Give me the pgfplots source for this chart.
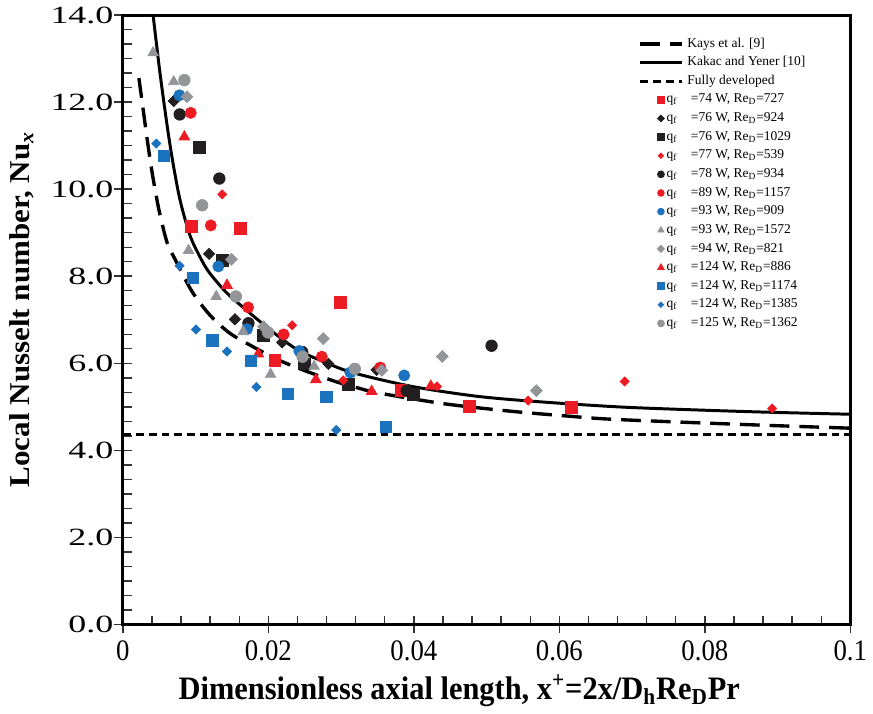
\documentclass[border=0pt]{standalone}
\usepackage{fontspec}
\setmainfont{Liberation Serif}
\usepackage{pgfplots}
\pgfplotsset{compat=1.18}
\definecolor{cred}{HTML}{ED1C24}
\definecolor{cblue}{HTML}{1B72BE}
\definecolor{cgray}{HTML}{939598}
\definecolor{cblack}{HTML}{231F20}
\definecolor{axgray}{HTML}{333333}
\pgfplotsset{
  lineleg/.style={legend image code/.code={\draw[##1] (0pt,0pt) -- (21pt,0pt);}},
  markleg/.style={legend image code/.code={\draw[##1, every mark/.append style={scale=0.6}] plot coordinates {(10.5pt,0pt)};}},
  commonax/.style={width=367pt, height=307.5pt, scale only axis,
    xmin=0, xmax=0.1, ymin=0, ymax=14,
    xtick={0,0.02,0.04,0.06,0.08,0.1}, ytick={0,2,4,6,8,10,12,14},
    scaled x ticks=false, tick pos=left},
}
\newcommand{\qf}[2]{\hspace*{-10.5pt}q\textsubscript{f}\hspace{6.8pt}=#1 W, Re\textsubscript{D}=#2}
\begin{document}
\begin{tikzpicture}
\path (-62pt,0pt) (376pt,0pt);
% minor ticks (inside)
\begin{axis}[commonax, minor x tick num=4, minor y tick num=5, tick align=inside,
  major tick length=0pt, minor tick length=4.5pt, xticklabels={}, yticklabels={},
  axis line style={draw=none}, minor tick style={line width=0.7pt, axgray}]
\addplot[draw=none, forget plot] coordinates {(0.05,5)};
\end{axis}
\begin{axis}[commonax, name=mainax, minor tick num=0, tick align=center, major tick length=9pt,
  major tick style={line width=0.75pt, axgray},
  axis line style={line width=1.2pt, draw=axgray},
  xticklabel style={/pgf/number format/fixed, /pgf/number format/precision=2,
    /pgf/number format/assume math mode=true, font=\fontsize{15}{15}\selectfont, xscale=0.9},
  yticklabel style={/pgf/number format/fixed, /pgf/number format/fixed zerofill,
    /pgf/number format/precision=1, /pgf/number format/assume math mode=true,
    font=\fontsize{12.5}{12.5}\selectfont, xscale=1.45, inner xsep=0pt},
  xlabel={Dimensionless axial length, x\textsuperscript{+}=2x/D\textsubscript{h}Re\textsubscript{D}Pr},
  xlabel style={font=\bfseries\fontsize{16.5}{18}\selectfont, xscale=0.93, at={(ticklabel cs:0.4625)}, anchor=near ticklabel},
  ylabel={\scalebox{1.08}[1]{Local Nusselt number, Nu\textsubscript{\textit{x}}}},
  ylabel style={font=\bfseries\fontsize{14.5}{16}\selectfont, at={(ticklabel cs:0.517)}, anchor=near ticklabel, yshift=5pt},
  legend style={at={(rel axis cs:0.70,0.975)}, anchor=north west, draw=none, fill=none,
    font=\fontsize{6.8}{8}\selectfont, row sep=0pt,
    nodes={text height=5pt, text depth=1.8pt, inner ysep=1.3pt}},
  legend cell align=left,
]
\addplot[smooth, black, line width=1.7pt, dash pattern=on 10pt off 5pt, lineleg] coordinates {
(0.0022,12.55)(0.00268,11.96)(0.00336,11.12)(0.00404,10.36)(0.00495,9.53)(0.00608,8.77)(0.0072,8.38)(0.0095,7.65)(0.012,7.10)(0.01471,6.69)(0.01789,6.38)(0.02107,6.10)(0.0247,5.85)(0.02925,5.58)(0.0324,5.43)(0.0351,5.32)(0.0442,5.07)(0.0533,4.90)(0.061,4.79)(0.0678,4.71)(0.086,4.59)(0.1,4.51)};
\addlegendentry{Kays et al. [9]}
\addplot[smooth, black, line width=1.5pt, lineleg] coordinates {
(0.00415,14.0)(0.0050,12.8)(0.00563,12.0)(0.00631,11.2)(0.00699,10.5)(0.0079,9.72)(0.00926,8.92)(0.01086,8.36)(0.01199,8.06)(0.01426,7.62)(0.01699,7.22)(0.02016,6.78)(0.0238,6.33)(0.02698,6.08)(0.0315,5.79)(0.0397,5.47)(0.0488,5.24)(0.0578,5.11)(0.0680,5.00)(0.0769,4.94)(0.0880,4.88)(0.1,4.83)};
\addlegendentry{Kakac and Yener [10]}
\addplot[black, line width=1.5pt, dash pattern=on 4pt off 2.5pt, lineleg] coordinates {(0,4.364)(0.1,4.364)};
\addlegendentry{Fully developed}
% q=74, Re=727
\addplot[only marks, mark=square*, color=cred, mark size=3pt, markleg] coordinates {
(0.00944,9.151)(0.01612,9.099)(0.02984,7.391)(0.02089,6.071)(0.03832,5.388)(0.04759,5.001)(0.06162,4.978)};
\addlegendentry{\qf{74}{727}}
% q=76, Re=924
\addplot[only marks, mark=square*, mark options={rotate=45}, color=cblack, mark size=2pt, markleg] coordinates {
(0.00699,12.026)(0.01185,8.514)(0.01540,7.011)(0.02189,6.481)(0.02824,5.987)(0.03488,5.850)};
\addlegendentry{\qf{76}{924}}
% q=76, Re=1029
\addplot[only marks, mark=square*, color=cblack, mark size=3pt, markleg] coordinates {
(0.01053,10.965)(0.01372,8.354)(0.01935,6.631)(0.02493,5.987)(0.03097,5.509)(0.03992,5.293)};
\addlegendentry{\qf{76}{1029}}
% q=77, Re=539
\addplot[only marks, mark=square*, mark options={rotate=45}, color=cred, mark size=1.6pt, markleg] coordinates {
(0.01366,9.879)(0.02326,6.875)(0.03029,5.607)(0.04319,5.470)(0.05572,5.145)(0.06898,5.584)(0.08924,4.962)};
\addlegendentry{\qf{77}{539}}
% q=78, Re=934
\addplot[only marks, mark=*, color=cblack, mark size=2.9pt, markleg] coordinates {
(0.00781,11.716)(0.01326,10.244)(0.01726,6.920)(0.02466,6.260)(0.03901,5.372)(0.05068,6.403)};
\addlegendentry{\qf{78}{934}}
% q=89, Re=1157
\addplot[only marks, mark=*, color=cred, mark size=2.8pt, markleg] coordinates {
(0.00933,11.753)(0.01208,9.167)(0.01721,7.284)(0.02210,6.663)(0.02734,6.153)(0.03538,5.903)};
\addlegendentry{\qf{89}{1157}}
% q=93, Re=909
\addplot[only marks, mark=*, color=cblue, mark size=2.8pt, markleg] coordinates {
(0.00777,12.156)(0.01312,8.225)(0.01706,6.784)(0.02425,6.283)(0.03127,5.789)(0.03867,5.721)};
\addlegendentry{\qf{93}{909}}
% q=93, Re=1572
\addplot[only marks, mark=triangle*, color=cgray, mark size=3pt, markleg] coordinates {
(0.00416,13.135)(0.00699,12.468)(0.00903,8.593)(0.01283,7.535)(0.01653,6.727)(0.02030,5.748)(0.02629,5.930)};
\addlegendentry{\qf{93}{1572}}
% q=94, Re=821
\addplot[only marks, mark=square*, mark options={rotate=45}, color=cgray, mark size=2.1pt, markleg] coordinates {
(0.00881,12.122)(0.01492,8.388)(0.01935,6.840)(0.02755,6.567)(0.03560,5.839)(0.04391,6.158)(0.05684,5.372)};
\addlegendentry{\qf{94}{821}}
% q=124, Re=886
\addplot[only marks, mark=triangle*, color=cred, mark size=3.1pt, markleg] coordinates {
(0.00845,11.200)(0.01431,7.792)(0.01862,6.214)(0.02653,5.623)(0.03420,5.356)(0.04233,5.475)};
\addlegendentry{\qf{124}{886}}
% q=124, Re=1174
\addplot[only marks, mark=square*, color=cblue, mark size=2.8pt, markleg] coordinates {
(0.00563,10.763)(0.00958,7.960)(0.01230,6.526)(0.01762,6.048)(0.02266,5.299)(0.02797,5.229)(0.03614,4.546)};
\addlegendentry{\qf{124}{1174}}
% q=124, Re=1385
\addplot[only marks, mark=square*, mark options={rotate=45}, color=cblue, mark size=1.6pt, markleg] coordinates {
(0.00460,11.047)(0.00779,8.240)(0.01005,6.777)(0.01431,6.271)(0.01835,5.456)(0.02933,4.468)};
\addlegendentry{\qf{124}{1385}}
% q=125, Re=1362
\addplot[only marks, mark=*, color=cgray, mark size=2.9pt, markleg] coordinates {
(0.00845,12.504)(0.01090,9.629)(0.01553,7.535)(0.01996,6.708)(0.02470,6.151)(0.03188,5.873)};
\addlegendentry{\qf{125}{1362}}
\end{axis}
\draw[line width=1.5pt, black] (mainax.south west) rectangle (mainax.north east);
\end{tikzpicture}
\end{document}
